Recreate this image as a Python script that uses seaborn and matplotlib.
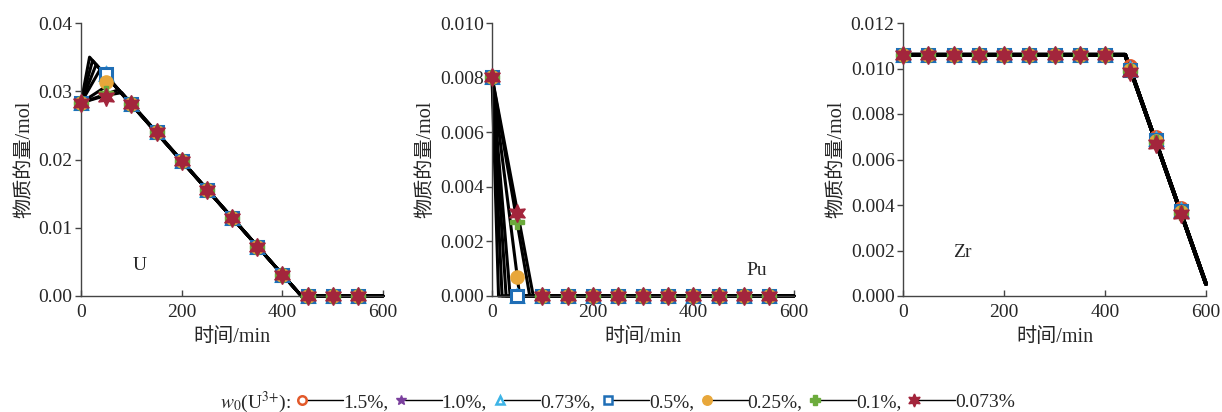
import numpy as np
import pandas as pd
import matplotlib
matplotlib.use("Agg")
import matplotlib.pyplot as plt
from matplotlib.lines import Line2D
from matplotlib.legend_handler import HandlerBase
import seaborn as sns

# ---------------- data ----------------
series = ["1.5%", "1.0%", "0.73%", "0.5%", "0.25%", "0.1%", "0.073%"]
marker_t = [0, 50, 100, 150, 200, 250, 300, 350, 400, 450, 500, 550]

# U : marker values (only t=50 differs between series)
U_common = [0.0283, None, 0.0281, 0.0240, 0.01985, 0.0156, 0.0114, 0.00724, 0.00313, 0.0, 0.0, 0.0]
U_at50 = [0.0326, 0.0326, 0.0326, 0.0325, 0.0314, 0.0298, 0.0291]
# U : simulated lines (start, peak, zero-crossing, end)
U_line_t = [[0, 17, 438, 600], [0, 23, 438, 600], [0, 30, 438, 600], [0, 38, 438, 600],
            [0, 62, 438, 600], [0, 74, 438, 600], [0, 50, 81, 438, 600]]
U_line_v = [[0.0283, 0.0350, 0, 0], [0.0283, 0.0345, 0, 0], [0.0283, 0.0339, 0, 0],
            [0.0283, 0.0332, 0, 0], [0.0283, 0.0313, 0, 0], [0.0283, 0.0302, 0, 0],
            [0.0283, 0.0294, 0.0298, 0, 0]]

# Pu
Pu_common = [0.00804, None] + [0.0] * 10
Pu_at50 = [0.0, 0.0, 0.0, 0.0, 0.0007, 0.0027, 0.00304]
Pu_zero_t = [13, 20, 28, 36, 55, 75, 82]
Pu_line_v = [0.00804, 0.0, 0.0]

# Zr
Zr_flat = 0.01061
Zr_tail = {  # values at t = 450, 500, 550
    "1.5%": [0.01011, 0.00698, 0.00386],
    "1.0%": [0.01002, 0.00690, 0.00380],
    "0.73%": [0.01000, 0.00688, 0.00378],
    "0.5%": [0.00995, 0.00684, 0.00374],
    "0.25%": [0.00992, 0.00680, 0.00370],
    "0.1%": [0.00988, 0.00675, 0.00366],
    "0.073%": [0.00984, 0.00669, 0.00361],
}
Zr_line_t = [0, 440, 600]
Zr_line_v = [0.0106, 0.0106, 0.00053]

# ---------------- styles ----------------
colors = ["#E2592A", "#7A3F9D", "#3DB4E6", "#1F6EB6", "#E8A73A", "#6CAB3C", "#A3253C"]
markers = ["o", "*", "^", "s", "o", "P", (6, 1, 0)]
filled = [False, True, False, False, True, True, True]
msizes = [8.5, 11, 8.5, 8.5, 9.5, 9.5, 13]

sns.set_style("ticks")
plt.rcParams["font.family"] = ["Liberation Serif", "Noto Sans CJK SC"]
plt.rcParams["mathtext.fontset"] = "stix"
plt.rcParams["axes.unicode_minus"] = False

fig = plt.figure(figsize=(12.22, 4.12), dpi=100)
W, H = 1222, 412
panels = [(81, 302), (492, 302), (903, 303)]
axes = [fig.add_axes([l / W, (H - 296) / H, w / W, 273 / H]) for l, w in panels]


def marker_kw(i, ms=None, mew=2.2):
    kw = dict(marker=markers[i], markersize=ms or msizes[i], linestyle="none", color=colors[i])
    if filled[i]:
        kw.update(markerfacecolor=colors[i], markeredgecolor=colors[i])
    else:
        kw.update(markerfacecolor="white" if markers[i] == "s" else "none",
                  markeredgecolor=colors[i], markeredgewidth=mew)
    return kw


def lines_df(ts, vs):
    rows = []
    for s, t, v in zip(series, ts, vs):
        for a, b in zip(t, v):
            rows.append((s, a, b))
    return pd.DataFrame(rows, columns=["series", "t", "v"])


# U panel
ax = axes[0]
dfU = lines_df(U_line_t, U_line_v)
sns.lineplot(data=dfU, x="t", y="v", hue="series", palette=["black"] * 7, estimator=None,
             sort=False, legend=False, lw=2.2, ax=ax, zorder=2)
for i, s in enumerate(series):
    vals = list(U_common)
    vals[1] = U_at50[i]
    ax.plot(marker_t, vals, zorder=3, **marker_kw(i))

# Pu panel
ax = axes[1]
dfP = lines_df([[0, z, 600] for z in Pu_zero_t], [Pu_line_v] * 7)
sns.lineplot(data=dfP, x="t", y="v", hue="series", palette=["black"] * 7, estimator=None,
             sort=False, legend=False, lw=2.2, ax=ax, zorder=2)
for i, s in enumerate(series):
    vals = list(Pu_common)
    vals[1] = Pu_at50[i]
    ax.plot(marker_t, vals, zorder=3, **marker_kw(i))

# Zr panel
ax = axes[2]
dfZ = lines_df([Zr_line_t] * 7, [Zr_line_v] * 7)
sns.lineplot(data=dfZ, x="t", y="v", hue="series", palette=["black"] * 7, estimator=None,
             sort=False, legend=False, lw=2.8, ax=ax, zorder=2)
for i, s in enumerate(series):
    vals = [Zr_flat] * 9 + Zr_tail[s]
    ax.plot(marker_t, vals, zorder=3, **marker_kw(i))

# axes formatting
ylims = [(0, 0.04), (0, 0.010), (0, 0.012)]
yticks = [np.arange(0, 0.0401, 0.01), np.arange(0, 0.01001, 0.002), np.arange(0, 0.01201, 0.002)]
yfmt = ["{:.2f}", "{:.3f}", "{:.3f}"]
labels = [("U", 117, 0.0045), ("Pu", 526, 0.00095), ("Zr", 117, 0.0019)]
for ax, yl, yt, fmt, (name, lx, ly) in zip(axes, ylims, yticks, yfmt, labels):
    ax.set_xlim(0, 600)
    ax.set_ylim(*yl)
    ax.set_xticks([0, 200, 400, 600])
    ax.set_yticks(yt)
    ax.set_yticklabels([fmt.format(v) for v in yt])
    ax.set_xlabel("时间/min", fontsize=14.5, labelpad=5)
    ax.set_ylabel("物质的量/mol", fontsize=14.5, labelpad=3)
    ax.tick_params(axis="x", direction="in", length=4, width=1, labelsize=14, pad=6, color="#444")
    ax.tick_params(axis="y", direction="out", length=4, width=1, labelsize=14, pad=2, color="#444")
    for sp in ["top", "right"]:
        ax.spines[sp].set_visible(False)
    for sp in ["left", "bottom"]:
        ax.spines[sp].set_color("#444")
        ax.spines[sp].set_linewidth(1.0)
    ax.set_facecolor("white")
    ax.text(lx, ly, name, fontsize=14, ha="center", va="center")
    ax.margins(0)
    for c in ax.lines:
        c.set_clip_on(False)


# legend with marker on the left of the line
class LeftMarkerHandler(HandlerBase):
    def create_artists(self, legend, orig_handle, xdescent, ydescent, width, height,
                       fontsize, trans):
        y = height / 2 - ydescent
        x0 = -xdescent
        ln = Line2D([x0 + 8, x0 + width], [y, y], color="black", lw=1.0)
        mk = Line2D([x0], [y], linestyle="none")
        mk.update_from(orig_handle)
        mk.set_linestyle("none")
        mk.set_data([x0 + 5], [y])
        ln.set_transform(trans)
        mk.set_transform(trans)
        return [ln, mk]


handles = []
for i in range(7):
    handles.append(Line2D([0], [0], **marker_kw(i, ms=msizes[i] * 0.72, mew=1.8)))
leg_labels = [s + "," for s in series[:-1]] + [series[-1]]
leg = fig.legend(handles, leg_labels, loc="center", bbox_to_anchor=(655 / W, 1 - 402 / H),
                 ncol=7, frameon=False, fontsize=14, handlelength=2.45, handletextpad=0.0,
                 columnspacing=0.3, borderpad=0.0, borderaxespad=0.0,
                 handler_map={Line2D: LeftMarkerHandler()})
fig.canvas.draw()
bb = leg.get_window_extent().transformed(fig.transFigure.inverted())
fig.text(bb.x0 - 4 / W, 1 - 402 / H, "$w_0$(U$^{3{+}}$):", fontsize=14, ha="right", va="center")

fig.savefig("out.png", dpi=100, facecolor="white")
